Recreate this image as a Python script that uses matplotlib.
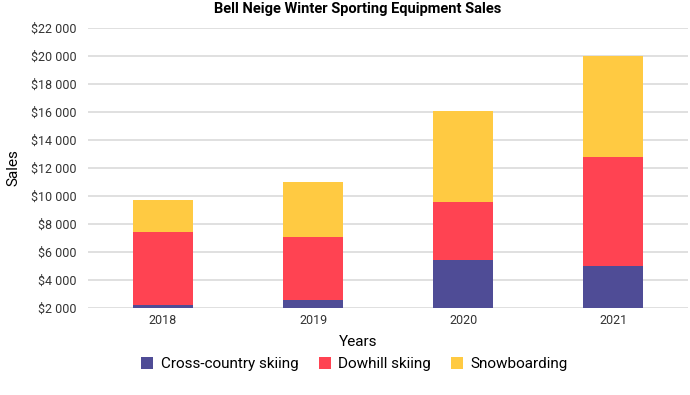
import numpy as np
import matplotlib
matplotlib.use("Agg")
import matplotlib.pyplot as plt
from matplotlib.ticker import FuncFormatter

years = ["2018", "2019", "2020", "2021"]
cross_country = [2200, 2600, 5400, 5000]
downhill = [5200, 4500, 4200, 7800]
snowboarding = [2300, 3900, 6500, 7200]
series_names = ["Cross-country skiing", "Dowhill skiing", "Snowboarding"]
colors = ["#4f4c96", "#ff4352", "#ffca42"]

plt.rcParams["font.family"] = ["Roboto", "DejaVu Sans"]

fig = plt.figure(figsize=(6.9, 3.95), dpi=100)
ax = fig.add_axes([0.1275, 0.2203, 0.87, 0.709])

x = np.arange(len(years))
bottom = np.zeros(len(years))
for name, vals, c in zip(series_names, [cross_country, downhill, snowboarding], colors):
    ax.bar(x, vals, width=0.4, bottom=bottom, color=c, label=name, zorder=3)
    bottom += np.array(vals)

ax.set_xlim(-0.5, len(years) - 0.5)
ax.set_ylim(2000, 22000)
ax.set_yticks(range(2000, 22001, 2000))
ax.yaxis.set_major_formatter(FuncFormatter(lambda v, p: "$" + f"{int(v):,}".replace(",", " ")))
ax.set_xticks(x)
ax.set_xticklabels(years)
ax.tick_params(axis="both", length=0, labelsize=9, colors="#333333")
ax.tick_params(axis="y", pad=8)
ax.tick_params(axis="x", pad=4)
ax.grid(axis="y", color="#dddddd", linewidth=1.3, zorder=0)
for s in ax.spines.values():
    s.set_visible(False)

# title and x label are centred on the whole chart block, not the axes
fig.text(0.519, 0.978, "Bell Neige Winter Sporting Equipment Sales", fontsize=10.5,
         fontweight="bold", ha="center", va="center")
ax.set_ylabel("Sales", fontsize=11, labelpad=8)
ax.set_xlabel("Years", fontsize=11)
ax.xaxis.set_label_coords(0.519 / 0.87 - 0.1275 / 0.87, -0.095)

fig.legend(loc="center", bbox_to_anchor=(0.514, 0.078), ncol=3, frameon=False, fontsize=11,
           handlelength=0.8, handleheight=0.8, handletextpad=0.5, columnspacing=1.3)

fig.savefig("out.png", dpi=100)
